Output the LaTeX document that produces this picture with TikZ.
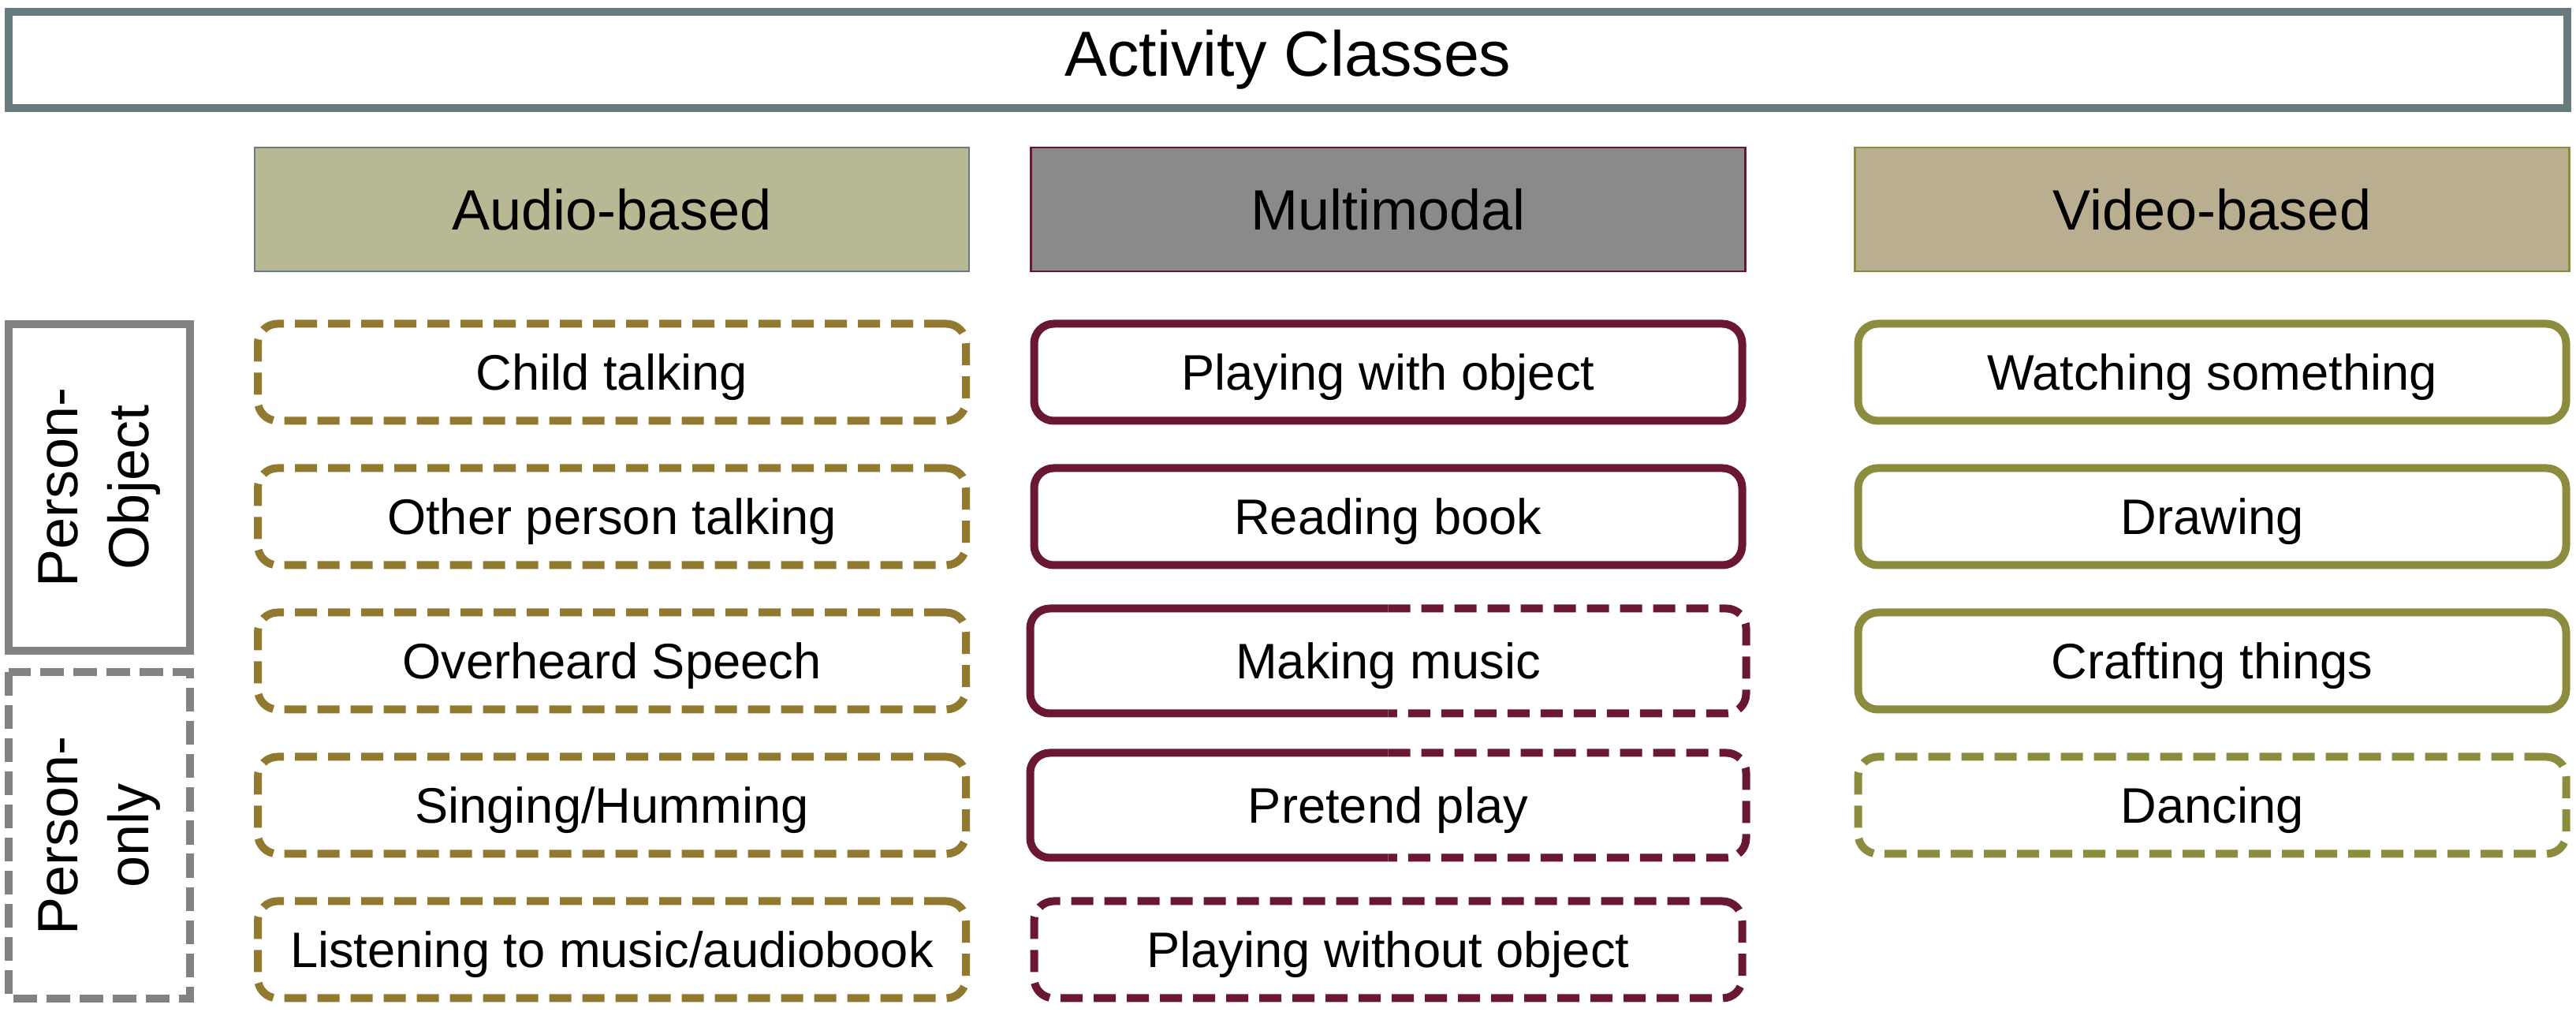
\documentclass[tikz,border=0pt]{standalone}
\usepackage{fontspec}
\setmainfont{Liberation Sans}
\usetikzlibrary{positioning}
\definecolor{titleline}{HTML}{677A7E}
\definecolor{audiohead}{HTML}{B8B994}
\definecolor{mmhead}{HTML}{8A8A8A}
\definecolor{videohead}{HTML}{B9AE90}
\definecolor{audioline}{HTML}{917A30}
\definecolor{mmline}{HTML}{6A1832}
\definecolor{videoline}{HTML}{8C8C3E}
\definecolor{sideline}{HTML}{828282}
\newcommand{\titlefont}{\fontsize{23}{28}\selectfont}
\newcommand{\headfont}{\fontsize{20.5}{25.5}\selectfont}
\newcommand{\cellfont}{\fontsize{18}{22}\selectfont}
\tikzset{
    cutdash/.style={dash pattern=on 0.28cm off 0.14cm},
    header/.style={rectangle, draw, line width=0.6pt, minimum width=9.06cm, minimum height=1.57cm, inner sep=0pt, font=\headfont},
    cell/.style={rectangle, rounded corners=0.25cm, line width=0.1cm, minimum width=8.98cm, minimum height=1.23cm, inner sep=0pt, text depth=0pt, font=\cellfont},
    audiocell/.style={cell, draw=audioline, cutdash},
    mmcell/.style={cell, draw=mmline},
    mmdash/.style={mmcell, cutdash},
    videocell/.style={cell, draw=videoline},
    videodash/.style={videocell, cutdash},
    halfline/.style={draw=mmline, line width=0.1cm, rounded corners=0.25cm},
    side/.style={rectangle, rotate=90, draw=sideline, line width=0.1cm, minimum width=4.14cm, minimum height=2.30cm, inner sep=0pt, align=center, font=\headfont}
}
\begin{document}
\begin{tikzpicture}
    \useasboundingbox (0,0) rectangle (32.67,-12.83);

    \node[rectangle, draw=titleline, line width=0.1cm, minimum width=32.45cm, minimum height=1.22cm, font=\titlefont] (title) at (16.335,-0.76) {Activity Classes};

    \node[header, draw=titleline, fill=audiohead] (audio) at (7.76,-2.655) {Audio-based};
    \node[header, draw=mmline, fill=mmhead] (multi) at (17.605,-2.655) {Multimodal};
    \node[header, draw=videoline, fill=videohead] (video) at (28.055,-2.655) {Video-based};

    \node[side] (po) at (1.26,-6.18) {Person-\\Object};
    \node[side, dash pattern=on 0.3cm off 0.12cm] (ponly) at (1.26,-10.595) {Person-\\only};

    % audio-based
    \node[audiocell] (a1) at (7.76,-4.72) {Child talking};
    \node[audiocell] (a2) at (7.76,-6.55) {Other person talking};
    \node[audiocell] (a3) at (7.76,-8.38) {Overheard Speech};
    \node[audiocell] (a4) at (7.76,-10.21) {Singing/Humming};
    \node[audiocell] (a5) at (7.76,-12.04) {Listening to music/audiobook};

    % multimodal
    \node[mmcell] (m1) at (17.605,-4.72) {Playing with object};
    \node[mmcell] (m2) at (17.605,-6.55) {Reading book};
    \node[cell] (m3) at (17.605,-8.38) {Making music};
    \node[cell] (m4) at (17.605,-10.21) {Pretend play};
    \node[mmdash] (m5) at (17.605,-12.04) {Playing without object};
    \draw[halfline] (m3.north) -- (m3.north west) -- (m3.south west) -- (m3.south);
    \draw[halfline, cutdash] (m3.north) -- (m3.north east) -- (m3.south east) -- (m3.south);
    \draw[halfline] (m4.north) -- (m4.north west) -- (m4.south west) -- (m4.south);
    \draw[halfline, cutdash] (m4.north) -- (m4.north east) -- (m4.south east) -- (m4.south);

    % video-based
    \node[videocell] (v1) at (28.055,-4.72) {Watching something};
    \node[videocell] (v2) at (28.055,-6.55) {Drawing};
    \node[videocell] (v3) at (28.055,-8.38) {Crafting things};
    \node[videodash] (v4) at (28.055,-10.21) {Dancing};
\end{tikzpicture}
\end{document}
